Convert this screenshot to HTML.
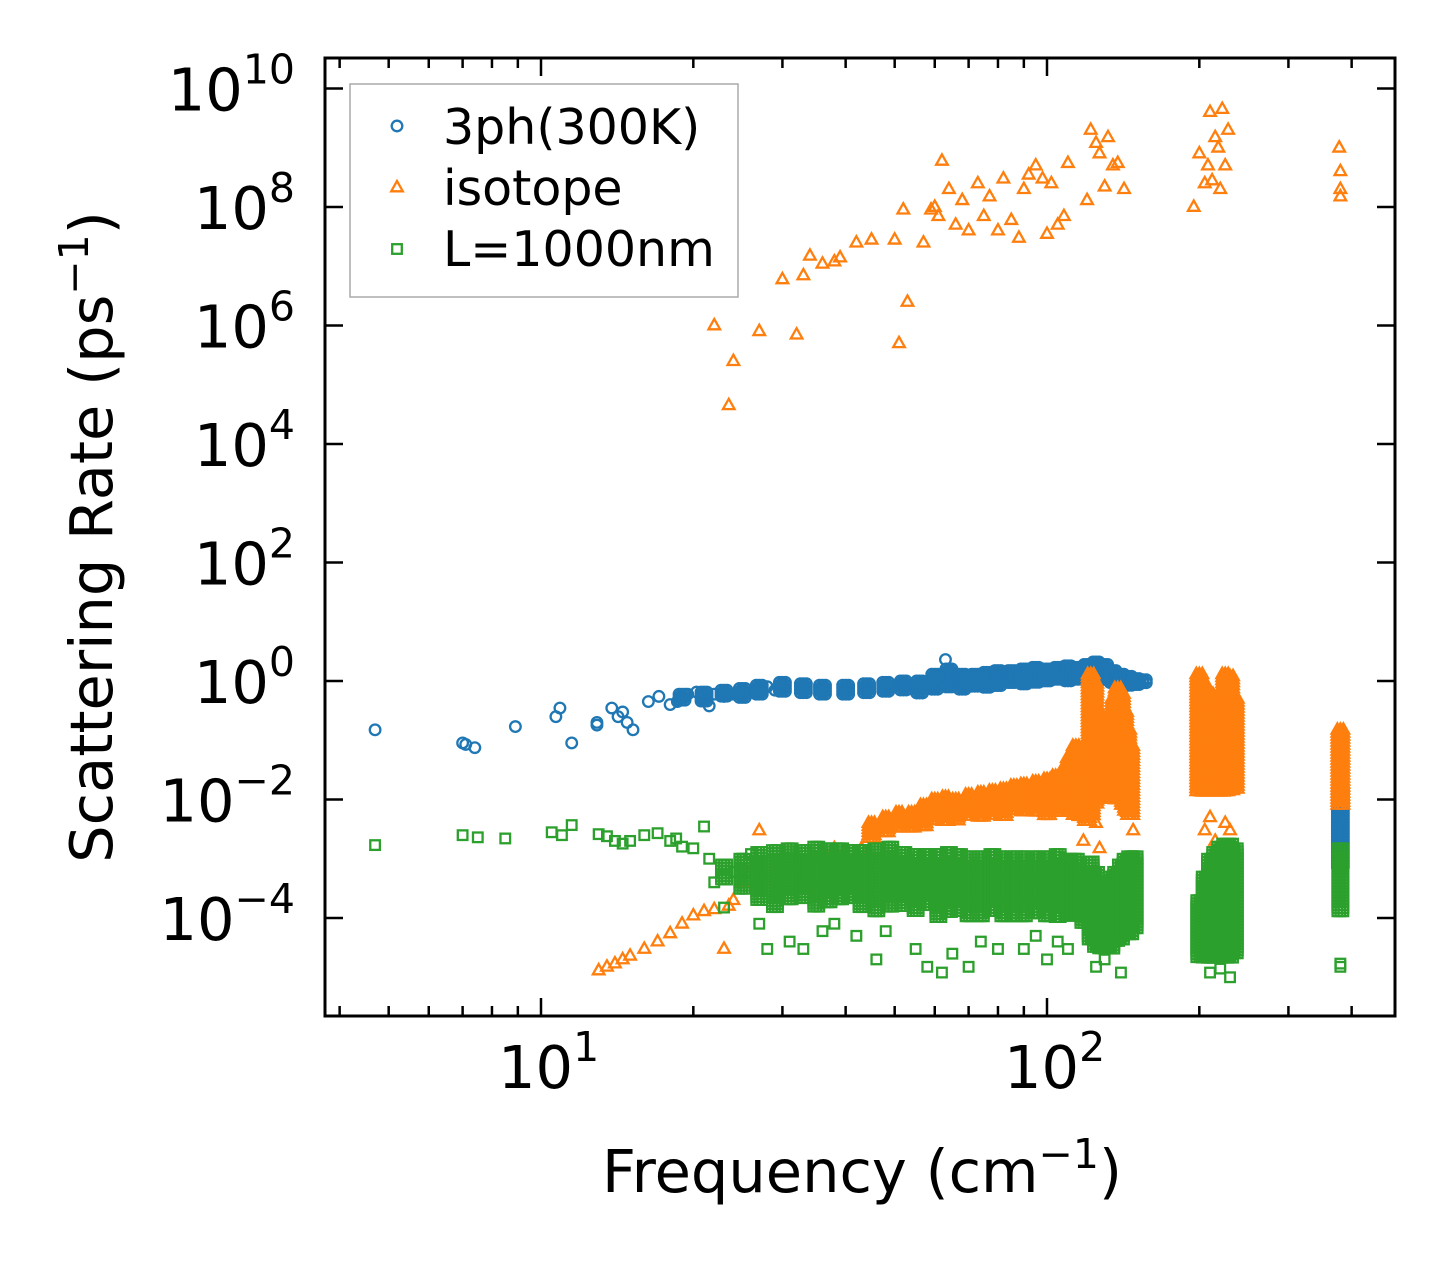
<!DOCTYPE html>
<html><head><meta charset="utf-8">
<style>
html,body{margin:0;padding:0;background:#fff;}
svg text{font-family:"DejaVu Sans","Liberation Sans",sans-serif;fill:#000;}
</style></head>
<body>
<svg id="chart" width="1455" height="1265" viewBox="0 0 1455 1265" xmlns="http://www.w3.org/2000/svg" style="position:absolute;left:0;top:0">
<g id="marks"></g>
<g id="axes"></g>
</svg>
<script>
// ---- data (frequency cm^-1, rate ps^-1) ----
const blueFreq = [4.7,7.0,7.1,7.4,8.9,10.7,10.9,11.5,12.9,12.9,13.8,14.2,14.5,14.8,15.2,16.3,17.1,18,18.6,19.5,20.3,21,21.5,22,23,24,25,26,27,28,29,30,63];
const blueRate = [0.15,0.09,0.085,0.075,0.17,0.25,0.35,0.09,0.2,0.18,0.35,0.25,0.3,0.2,0.15,0.45,0.55,0.4,0.45,0.6,0.65,0.55,0.38,0.6,0.55,0.6,0.7,0.65,0.75,0.8,0.7,0.85,2.3];
const blueBandFreq = [19,21,23,25,27,30,33,36,40,44,48,52,56,60,64,68,72,76,80,85,90,95,100,105,110,115,120,125,130,135,140,145,150,155,380];
const blueBandLo = [0.45,0.45,0.5,0.5,0.55,0.6,0.6,0.55,0.55,0.6,0.65,0.65,0.6,0.7,0.75,0.7,0.75,0.75,0.8,0.85,0.85,0.9,0.95,1.0,1.0,1.0,1.05,1.0,1.0,0.9,0.8,0.8,0.8,0.85,0.0007];
const blueBandHi = [0.6,0.65,0.7,0.75,0.85,0.95,0.9,0.85,0.85,0.9,0.95,1.0,1.0,1.3,1.6,1.3,1.3,1.4,1.5,1.5,1.6,1.7,1.6,1.7,1.8,1.7,1.9,2.1,1.9,1.5,1.3,1.2,1.1,1.05,0.015];

const orangeFreq = [13,13.5,14,14.5,15,16,17,18,19,20,21,22,23,23.5,24,25,26,27,28,30,32,34,36,38,40,43,
 22,23.5,24,27,30,32,33,34,36,38,39,42,45,50,51,52,53,57,59,60,61,62,64,66,68,70,73,75,77,80,82,85,88,90,92,95,98,100,102,105,108,110,120,122,125,127,130,132,135,138,142,195,200,205,208,210,212,215,218,220,222,225,228,378,380,380,380,
 118,125,127,145,148,150,205,210,215,225,230,380];
const orangeRate = [1.3e-5,1.5e-5,1.7e-5,2e-5,2.3e-5,3e-5,4e-5,5.5e-5,8e-5,1.1e-4,1.3e-4,1.4e-4,3e-5,1.6e-4,2e-4,4e-4,6e-4,3e-3,5e-4,7e-4,8e-4,1e-3,1.2e-3,1.5e-3,1e-3,1.5e-3,
 1e6,4.5e4,2.5e5,8e5,6e6,7e5,7e6,1.5e7,1.1e7,1.2e7,1.4e7,2.5e7,2.8e7,2.8e7,5e5,9e7,2.5e6,2.5e7,9e7,1e8,7e7,6e8,2e8,5e7,1.3e8,4e7,2.5e8,7e7,1.5e8,4e7,3e8,6e7,3e7,2e8,3.5e8,5e8,3e8,3.5e7,2.5e8,5e7,7e7,5.5e8,1.3e8,2e9,1.2e9,8e8,2.2e8,1.5e9,5e8,5.5e8,2e8,1e8,8e8,2.5e8,5e8,4e9,2.8e8,1.5e9,1e9,2e8,4.5e9,5e8,2e9,1e9,4e8,2e8,1.5e8,
 2e-3,4e-3,1.5e-3,1e-3,3e-3,1e-3,3e-3,5e-3,2e-3,4e-3,3e-3,8e-4];
const orangeBandFreq = [45,48,51,54,57,60,63,66,70,74,78,82,86,90,95,100,104,108,111,114,117,120,122,124,126,128,130,132,134,136,138,140,142,144,146,200,205,210,215,220,225,230,235,380];
const orangeBandLo = [2e-3,2.5e-3,3e-3,3e-3,3.5e-3,4e-3,4e-3,4e-3,5e-3,5e-3,5e-3,5e-3,6e-3,6e-3,6e-3,5e-3,6e-3,8e-3,6e-3,5e-3,5e-3,4e-3,5e-3,8e-3,0.01,0.01,0.01,0.015,0.01,0.01,0.01,0.01,0.008,0.006,0.005,0.013,0.013,0.013,0.014,0.013,0.013,0.013,0.015,0.008];
const orangeBandHi = [4e-3,5e-3,6e-3,6e-3,8e-3,0.01,0.011,0.01,0.012,0.013,0.014,0.015,0.017,0.018,0.02,0.022,0.025,0.03,0.05,0.08,0.03,0.05,1.3,0.9,0.3,0.15,0.12,0.15,0.25,0.5,0.75,0.6,0.3,0.15,0.08,1.3,0.8,0.6,0.4,0.5,1.3,1.2,0.5,0.15];

const greenFreq = [4.7,7,7.5,8.5,10.5,11,11.5,13,13.5,14,14.5,15,16,17,18,18.5,19,20,21,21.5,22,23,24,25,26,27,28,
 31,33,36,38,42,46,48,55,58,62,65,70,74,80,90,95,100,105,110,125,130,140,210,220,230,380,380];
const greenRate = [1.7e-3,2.5e-3,2.3e-3,2.2e-3,2.8e-3,2.5e-3,3.7e-3,2.6e-3,2.4e-3,2e-3,1.8e-3,2e-3,2.5e-3,2.7e-3,2e-3,2.2e-3,1.6e-3,1.5e-3,3.5e-3,1e-3,4e-4,1.5e-4,6e-4,1e-3,1.2e-3,8e-5,3e-5,
 4e-5,3e-5,6e-5,8e-5,5e-5,2e-5,6e-5,3e-5,1.5e-5,1.2e-5,2.5e-5,1.5e-5,4e-5,3e-5,3e-5,5e-5,2e-5,4e-5,3e-5,1.5e-5,2e-5,1.2e-5,1.2e-5,1.4e-5,1e-5,1.5e-5,1.7e-5];
const greenBandFreq = [23,25,27,29,31,33,35,37,39,41,43,46,49,52,55,58,61,64,67,70,74,78,82,86,90,95,100,105,110,114,118,122,125,128,131,134,137,140,143,146,149,200,205,210,215,220,225,230,235,380];
const greenBandLo = [4e-4,3e-4,2e-4,1.5e-4,2e-4,2e-4,1.5e-4,1.8e-4,2e-4,2e-4,1.5e-4,1.2e-4,1.5e-4,1.5e-4,1.2e-4,1.5e-4,1e-4,1.2e-4,1.2e-4,1e-4,1e-4,1.2e-4,1e-4,1e-4,1e-4,1.2e-4,1e-4,1e-4,1e-4,1e-4,8e-5,4e-5,3e-5,3e-5,3e-5,3e-5,4e-5,4e-5,5e-5,5e-5,6e-5,2e-5,2e-5,2e-5,2e-5,2e-5,2e-5,2e-5,2.5e-5,1.2e-4];
const greenBandHi = [8e-4,1e-3,1.3e-3,1.4e-3,1.5e-3,1.4e-3,1.6e-3,1.5e-3,1.5e-3,1.4e-3,1.4e-3,1.5e-3,1.6e-3,1.3e-3,1.2e-3,1.2e-3,1.2e-3,1.3e-3,1.2e-3,1.1e-3,1.1e-3,1.2e-3,1.1e-3,1.1e-3,1.1e-3,1.1e-3,1.1e-3,1.2e-3,1e-3,1e-3,6e-4,9e-4,6e-4,4e-4,4e-4,5e-4,6e-4,8e-4,1e-3,1.1e-3,1.1e-3,2e-4,5e-4,1e-3,1.3e-3,1.6e-3,1.8e-3,1.8e-3,1.5e-3,1.5e-3];

const xTickValues = [10,100];
const xTickLabels = ["1","2"];
const yTickExps = [10,8,6,4,2,0,-2,-4];

// ---- axis functions ----
const L=325,R=1395,T=58,B=1016;
const X = f => 541 + (Math.log10(f)-1)*506;
const Y = v => 681 - Math.log10(v)*59.25;
const NS="http://www.w3.org/2000/svg";
const marks=document.getElementById('marks');
const axes=document.getElementById('axes');
function mk(tag,attrs,parent){const e=document.createElementNS(NS,tag);for(const k in attrs)e.setAttribute(k,attrs[k]);parent.appendChild(e);return e;}

const C={b:"#1f77b4",o:"#ff7f0e",g:"#2ca02c"};
function marker(kind,x,y,parent){
  let e;
  if(kind==='b'){e=mk('circle',{cx:x,cy:y,r:5.3,fill:'none',stroke:C.b,'stroke-width':2.3},parent);}
  else if(kind==='o'){e=mk('polygon',{points:`${x},${y-6.5} ${x+5.8},${y+3.8} ${x-5.8},${y+3.8}`,fill:'none',stroke:C.o,'stroke-width':2.3},parent);}
  else {e=mk('rect',{x:x-4.8,y:y-4.8,width:9.6,height:9.6,fill:'none',stroke:C.g,'stroke-width':2.3},parent);}
  return e;
}
function drawSeries(kind,fs,vs,bf,blo,bhi,name){
  const g=mk('g',{},marks);
  
  
  for(let i=0;i<bf.length;i++){
    const x=X(bf[i]), y1=Y(bhi[i]), y2=Y(blo[i]);
    for(let dx=-3;dx<=3;dx+=3){
      for(let y=y1;y<=y2;y+=3){
        const m=marker(kind,x+dx,y,g);
        
        
      }
    }
  }
  for(let i=0;i<fs.length;i++){
    const m=marker(kind,X(fs[i]),Y(vs[i]),g);
    
    
  }
}
drawSeries('b',blueFreq,blueRate,blueBandFreq,blueBandLo,blueBandHi,'3ph');
drawSeries('o',orangeFreq,orangeRate,orangeBandFreq,orangeBandLo,orangeBandHi,'isotope');
drawSeries('g',greenFreq,greenRate,greenBandFreq,greenBandLo,greenBandHi,'boundary');

// frame
mk('rect',{x:L,y:T,width:R-L,height:B-T,fill:'none',stroke:'#000','stroke-width':3},axes);
// x ticks
for(let d=0;d<=2;d++){for(let m=1;m<=9;m++){const f=m*Math.pow(10,d);if(f<3.74||f>488)continue;
  const x=X(f);const len=(m===1)?18:10;
  mk('line',{x1:x,y1:B,x2:x,y2:B-len,stroke:'#000','stroke-width':2.5},axes);
  mk('line',{x1:x,y1:T,x2:x,y2:T+len,stroke:'#000','stroke-width':2.5},axes);
}}
xTickValues.forEach((v,i)=>{
  const t=mk('text',{x:X(v)-43,y:1088,'font-size':59},axes);
  
  
  t.innerHTML='10<tspan dy="-27" font-size="41">'+xTickLabels[i]+'</tspan>';
});
yTickExps.forEach(e=>{
  const y=Y(Math.pow(10,e));
  mk('line',{x1:L,y1:y,x2:L+18,y2:y,stroke:'#000','stroke-width':2.5},axes);
  mk('line',{x1:R,y1:y,x2:R-18,y2:y,stroke:'#000','stroke-width':2.5},axes);
  const lab=(e<0?'\u2212':'')+Math.abs(e);
  const t=mk('text',{x:L-30,y:y+22,'font-size':59,'text-anchor':'end'},axes);
  
  
  t.innerHTML='10<tspan dy="-27" font-size="41">'+lab+'</tspan>';
});
</script>
<svg style="position:absolute;left:0;top:0" width="1455" height="1265">
<text x="862" y="1192" font-size="59" text-anchor="middle" style="font-family:'DejaVu Sans','Liberation Sans',sans-serif">Frequency (cm<tspan dy="-24" font-size="41">−1</tspan><tspan dy="24">)</tspan></text>
<text transform="translate(112,537) rotate(-90)" font-size="59" text-anchor="middle" style="font-family:'DejaVu Sans','Liberation Sans',sans-serif">Scattering Rate (ps<tspan dy="-24" font-size="41">−1</tspan><tspan dy="24">)</tspan></text>
<g>
<rect x="350" y="84" width="388" height="213" fill="#fff" fill-opacity="0.8" stroke="#aaa" stroke-width="1.5"/>
<circle cx="397" cy="126" r="5.3" fill="none" stroke="#1f77b4" stroke-width="2.3"/>
<text x="443" y="144" font-size="49" style="font-family:'DejaVu Sans','Liberation Sans',sans-serif">3ph(300K)</text>
<polygon points="397,181 402.8,191.3 391.2,191.3" fill="none" stroke="#ff7f0e" stroke-width="2.3"/>
<text x="443" y="205" font-size="49" style="font-family:'DejaVu Sans','Liberation Sans',sans-serif">isotope</text>
<rect x="392.2" y="244.2" width="9.6" height="9.6" fill="none" stroke="#2ca02c" stroke-width="2.3"/>
<text x="443" y="266" font-size="49" style="font-family:'DejaVu Sans','Liberation Sans',sans-serif">L=1000nm</text>
</g>
</svg>
</body></html>
